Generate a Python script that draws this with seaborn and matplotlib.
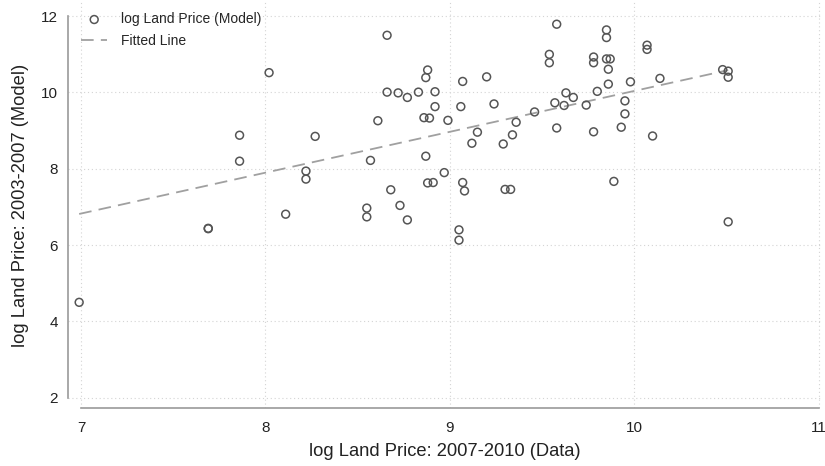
import numpy as np
import pandas as pd
import matplotlib
matplotlib.use("Agg")
import matplotlib.pyplot as plt
import seaborn as sns

# log land price, data (2007-2010) vs model (2003-2007)
price_data = [6.99, 7.69, 7.69, 7.86, 7.86, 8.02, 8.11, 8.22, 8.22, 8.27,
              8.55, 8.55, 8.57, 8.61, 8.66, 8.66, 8.68, 8.72, 8.73, 8.77,
              8.77, 8.83, 8.86, 8.87, 8.87, 8.88, 8.89, 8.88, 8.91, 8.92,
              8.92, 8.99, 8.97, 9.05, 9.05, 9.06, 9.07, 9.07, 9.08, 9.12,
              9.15, 9.20, 9.24, 9.29, 9.30, 9.33, 9.34, 9.36, 9.46, 9.54,
              9.54, 9.57, 9.58, 9.58, 9.62, 9.63, 9.67, 9.74, 9.78, 9.78,
              9.78, 9.80, 9.85, 9.85, 9.85, 9.87, 9.86, 9.86, 9.89, 9.93,
              9.95, 9.95, 9.98, 10.07, 10.07, 10.10, 10.14, 10.48, 10.51, 10.51,
              10.51]
price_model = [4.50, 6.43, 6.44, 8.88, 8.20, 10.52, 6.81, 7.94, 7.73, 8.85,
               6.97, 6.74, 8.22, 9.26, 11.50, 10.01, 7.45, 9.99, 7.04, 9.87,
               6.66, 10.01, 9.34, 10.39, 8.33, 10.59, 9.33, 7.63, 7.64, 10.02,
               9.63, 9.27, 7.90, 6.40, 6.13, 9.63, 10.29, 7.64, 7.42, 8.67,
               8.96, 10.41, 9.70, 8.65, 7.46, 7.46, 8.89, 9.22, 9.49, 11.00,
               10.78, 9.73, 11.79, 9.07, 9.66, 9.99, 9.87, 9.67, 10.93, 10.78,
               8.97, 10.03, 11.64, 11.44, 10.88, 10.88, 10.61, 10.22, 7.67, 9.09,
               9.78, 9.44, 10.28, 11.24, 11.13, 8.86, 10.37, 10.60, 10.56, 10.40,
               6.61]
# fitted line
fit_intercept = -0.67
fit_slope = 1.071
x_ticks = [7, 8, 9, 10, 11]
y_ticks = [2, 4, 6, 8, 10, 12]

df = pd.DataFrame({"data": price_data, "model": price_model})
x_fit = np.array([df["data"].min(), df["data"].max()])
fit_df = pd.DataFrame({"data": x_fit, "model": fit_intercept + fit_slope * x_fit})

sns.set_style("white")
plt.rcParams["font.family"] = ["Liberation Sans", "DejaVu Sans"]

fig = plt.figure(figsize=(8.25, 4.66), dpi=100)
ax = fig.add_axes([0.0821, 0.1238, 0.9143, 0.8719])

sns.scatterplot(data=df, x="data", y="model", ax=ax, marker="o", s=32,
                facecolors="none", edgecolor="#555555", linewidth=1.1,
                label="log Land Price (Model)", zorder=3)
sns.lineplot(data=fit_df, x="data", y="model", ax=ax, color="#a0a0a0", lw=1.3,
             ls=(0, (7, 4)), label="Fitted Line", zorder=2)

ax.set_xlim(6.928, 11.019)
ax.set_ylim(1.722, 12.372)
ax.set_xticks(x_ticks)
ax.set_yticks(y_ticks)
ax.grid(True, color="#d4d4d4", linestyle=(0, (1, 2.5)), linewidth=0.8)
ax.set_axisbelow(True)

for side in ["top", "right"]:
    ax.spines[side].set_visible(False)
ax.spines["left"].set_bounds(2, 12)
ax.spines["bottom"].set_bounds(7, 11)
for side in ["left", "bottom"]:
    ax.spines[side].set_color("#9a9a9a")
    ax.spines[side].set_linewidth(1.2)
ax.tick_params(axis="both", direction="out", length=4, width=1, color="#9a9a9a",
               labelsize=11, labelcolor="#222222", pad=3)
ax.tick_params(axis="x", pad=5)

ax.set_xlabel("log Land Price: 2007-2010 (Data)", fontsize=13.2, color="#222222", labelpad=6)
ax.set_ylabel("log Land Price: 2003-2007 (Model)", fontsize=13.2, color="#222222", labelpad=9)

ax.legend(loc="upper left", bbox_to_anchor=(0.0176, 0.975), frameon=False,
          fontsize=10, handlelength=1.9, handletextpad=1.0, labelspacing=0.55,
          borderpad=0, borderaxespad=0)

fig.savefig("out.png", dpi=100)
